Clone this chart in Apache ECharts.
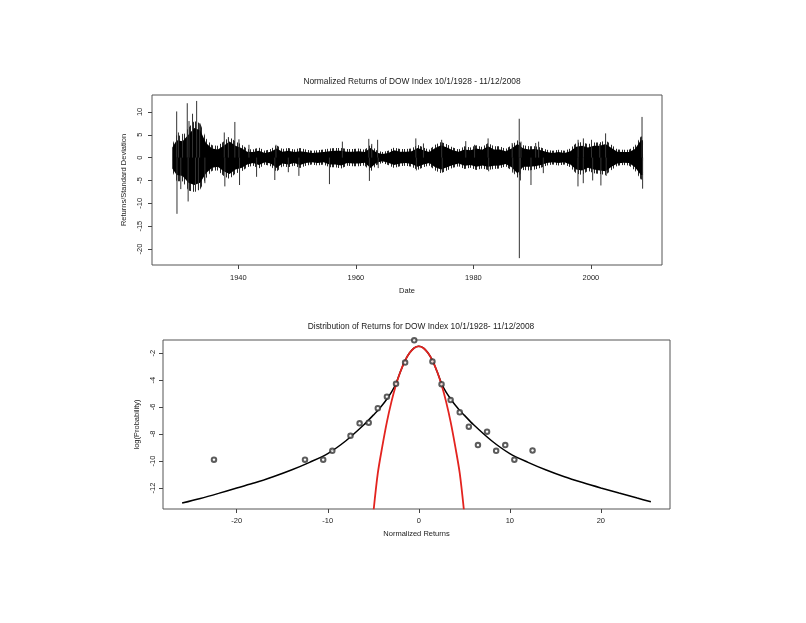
<!DOCTYPE html>
<html>
<head>
<meta charset="utf-8">
<script src="https://cdn.jsdelivr.net/npm/echarts@6/dist/echarts.min.js"></script>
<style>
  html, body { margin: 0; padding: 0; background: #fff; }
  #chart { width: 806px; height: 623px; }
</style>
</head>
<body>
<div id="chart"></div>
<script>
// top panel: daily normalized returns, read off the picture as a yearly core band,
// an outer fringe (where the short hairs reach) and the single large spikes
const dataStart = 1928.75;
const dataEnd = 2008.87;
const bandYears = [];
for (let y = 1928; y <= 2008; y++) bandYears.push(y);
const bandHi = [2.2, 3.8, 3.6, 5.0, 6.5, 6.0, 3.2, 2.0, 1.8, 2.6,
  3.5, 2.6, 2.1, 1.3, 1.2, 1.5, 1.0, 1.3, 2.0, 1.3,
  1.5, 1.2, 1.4, 1.2, 1.0, 1.1, 1.2, 1.4, 1.5, 1.5,
  1.3, 1.3, 1.4, 1.2, 2.1, 1.1, 0.8, 1.0, 1.6, 1.3,
  1.3, 1.4, 2.1, 1.6, 1.2, 2.1, 2.7, 2.2, 1.6, 1.3,
  1.8, 1.6, 2.0, 1.7, 2.5, 1.8, 1.8, 1.4, 2.0, 3.0,
  2.0, 1.8, 1.9, 1.6, 1.2, 1.0, 1.2, 1.0, 1.4, 2.4,
  2.6, 2.2, 2.6, 2.6, 3.0, 2.1, 1.3, 1.2, 1.2, 1.9, 3.8];
const bandLo = [-2.4, -3.8, -4.0, -5.5, -6.0, -5.5, -3.4, -2.2, -2.0, -3.0,
  -3.6, -2.6, -2.3, -1.5, -1.2, -1.6, -1.0, -1.3, -2.3, -1.3,
  -1.5, -1.2, -1.6, -1.2, -1.0, -1.2, -1.0, -1.5, -1.5, -1.7,
  -1.2, -1.3, -1.3, -1.1, -2.3, -1.1, -0.8, -1.1, -1.6, -1.3,
  -1.2, -1.4, -2.0, -1.5, -1.2, -2.1, -2.6, -2.1, -1.6, -1.3,
  -1.8, -1.6, -2.0, -1.7, -2.0, -1.8, -1.7, -1.4, -2.1, -3.5,
  -2.0, -2.0, -1.9, -1.6, -1.2, -1.0, -1.2, -1.0, -1.5, -2.6,
  -2.8, -2.2, -2.6, -2.8, -3.0, -2.0, -1.3, -1.1, -1.2, -2.1, -3.8];
const outerHi = [2.8, 5.0, 4.6, 6.5, 8.0, 7.5, 4.2, 2.7, 2.6, 3.5,
  4.5, 3.5, 2.9, 1.9, 1.8, 2.2, 1.5, 1.9, 2.7, 1.9,
  2.1, 1.8, 2.1, 1.8, 1.5, 1.6, 1.8, 2.0, 2.1, 2.1,
  1.9, 1.9, 2.0, 1.7, 2.8, 1.6, 1.2, 1.5, 2.2, 1.9,
  1.9, 2.0, 2.8, 2.2, 1.7, 2.8, 3.4, 2.9, 2.2, 1.8,
  2.5, 2.2, 2.7, 2.3, 3.2, 2.5, 2.5, 1.9, 2.7, 3.8,
  2.7, 2.5, 2.5, 2.2, 1.7, 1.5, 1.7, 1.5, 2.0, 3.2,
  3.4, 2.9, 3.3, 3.3, 3.8, 2.8, 1.8, 1.7, 1.7, 2.6, 4.6];
const outerLo = [-3.0, -5.2, -5.2, -7.2, -7.5, -7.0, -4.5, -2.9, -2.8, -4.0,
  -4.7, -3.5, -3.1, -2.1, -1.8, -2.4, -1.5, -1.9, -3.1, -1.9,
  -2.1, -1.8, -2.3, -1.8, -1.5, -1.7, -1.5, -2.1, -2.1, -2.4,
  -1.8, -1.9, -1.9, -1.7, -3.1, -1.6, -1.2, -1.6, -2.3, -1.9,
  -1.8, -2.0, -2.7, -2.1, -1.7, -2.8, -3.4, -2.8, -2.2, -1.9,
  -2.5, -2.2, -2.7, -2.4, -2.7, -2.5, -2.4, -1.9, -2.8, -4.4,
  -2.7, -2.8, -2.6, -2.2, -1.7, -1.5, -1.7, -1.5, -2.1, -3.5,
  -3.8, -2.9, -3.4, -3.6, -3.8, -2.7, -1.8, -1.6, -1.7, -2.8, -4.8];
const spikeYears = [1929.5, 1929.55, 1929.8, 1930.2, 1930.5, 1931.3, 1931.45, 1931.6, 1932.2, 1932.7,
  1932.9, 1933.2, 1933.4, 1934.3, 1937.6, 1937.7, 1938.3, 1939.4, 1940.1, 1940.2,
  1941.8, 1943.1, 1946.2, 1946.4, 1948.5, 1950.3, 1955.5, 1957.7, 1962.2, 1962.3,
  1962.7, 1963.7, 1963.8, 1970.2, 1970.3, 1971.5, 1974.6, 1974.7, 1978.7, 1980.2,
  1982.5, 1982.6, 1986.6, 1986.7, 1987.8, 1987.82, 1988.0, 1988.1, 1989.8, 1990.6,
  1991.1, 1991.9, 1997.8, 1997.82, 1998.7, 1998.72, 2000.1, 2000.3, 2001.5, 2001.7,
  2002.5, 2002.6, 2008.7, 2008.8];
const spikeValues = [10.1, -12.3, 5.5, -6.9, 5.2, 11.9, -9.6, 8.0, 9.6, -7.4,
  12.4, -7.1, 7.5, -5.6, 5.5, -6.3, 4.5, 7.8, 4.0, -6.0,
  2.8, -4.2, -4.9, 2.8, -3.2, -4.0, -5.8, 3.5, 4.1, -5.1,
  3.0, 3.9, -2.3, 4.2, -2.8, 3.1, 3.9, -3.0, 3.6, 2.8,
  4.2, -3.0, 3.2, -3.3, 8.5, -22.0, -5.0, 3.5, -6.0, 3.2,
  3.5, -3.4, -6.3, 3.9, -5.6, 4.2, 3.9, -5.0, 3.0, -6.1,
  5.3, -4.0, 8.9, -6.8];
const topXTicks = [1940, 1960, 1980, 2000];
const topYTicks = [-20, -15, -10, -5, 0, 5, 10];

// bottom panel: log probability of binned returns + fitted curves
const binCenters = [-22.5, -12.5, -10.5, -9.5, -7.5, -6.5, -5.5, -4.5, -3.5, -2.5, -1.5, -0.5,
  1.5, 2.5, 3.5, 4.5, 5.5, 6.5, 7.5, 8.5, 9.5, 10.5, 12.5];
const binLogProb = [-9.9, -9.9, -9.9, -9.25, -8.13, -7.21, -7.16, -6.09, -5.23, -4.28, -2.7, -1.05,
  -2.62, -4.31, -5.47, -6.39, -7.46, -8.82, -7.83, -9.25, -8.82, -9.9, -9.22];
const fitX = [-26, -24, -22, -20, -18, -16, -14, -12, -10, -8, -6, -5, -4.5, -4, -3.5, -3, -2.5, -2, -1.5, -1, -0.5,
  0, 0.5, 1, 1.5, 2, 2.5, 3, 3.5, 4, 4.5, 5, 6, 8, 10, 12, 14, 16, 18, 20, 22, 24, 25.5];
const fitY = [-13.12, -12.78, -12.4, -12.0, -11.62, -11.17, -10.67, -10.1, -9.45, -8.5, -7.3, -6.6, -6.25, -5.85, -5.4, -4.9, -4.25, -3.35, -2.55, -1.98, -1.62,
  -1.5, -1.62, -1.98, -2.55, -3.35, -4.25, -4.9, -5.4, -5.85, -6.25, -6.6, -7.3, -8.5, -9.45, -10.1, -10.67, -11.17, -11.6, -12.0, -12.38, -12.75, -13.02];
const normalX = [-4.95, -4.5, -4, -3.5, -3, -2.5, -2, -1.5, -1, -0.5, 0, 0.5, 1, 1.5, 2, 2.5, 3, 3.5, 4, 4.5, 4.95];
const normalY = [-13.58, -10.9, -8.9, -7.1, -5.6, -4.35, -3.35, -2.55, -1.98, -1.62, -1.5, -1.62, -1.98, -2.55, -3.35, -4.35, -5.6, -7.1, -8.9, -10.9, -13.58];
const botXTicks = [-20, -10, 0, 10, 20];
const botYTicks = [-12, -10, -8, -6, -4, -2];

const font = 'Liberation Sans, Arial, Helvetica, sans-serif';
const ink = '#222';

// hair-like hatch used for the fringe of the top band
const hatch = document.createElement('canvas');
hatch.width = 11; hatch.height = 4;
(function () {
  const g = hatch.getContext('2d');
  g.fillStyle = 'rgba(0,0,0,0.85)';
  [0, 2, 3, 6, 8].forEach(function (x) { g.fillRect(x, 0, 1, 4); });
})();

function axisStyle(ticks, labelMargin, rotate) {
  return {
    axisLine: { show: false, onZero: false },
    splitLine: { show: false },
    axisTick: { show: true, inside: false, length: 4, customValues: ticks, lineStyle: { color: '#444', width: 1 } },
    axisLabel: { customValues: ticks, margin: labelMargin, rotate: rotate || 0, fontSize: 7.5, color: ink, fontFamily: font,
      formatter: function (v) { return String(v); } }
  };
}

// whole band drawn as one polygon through the yearly values (mid-year), from first to last trading day
function bandPolygon(hi, lo, fill) {
  return function (params, api) {
    if (params.dataIndex !== 0) return null;
    const n = bandYears.length;
    const top = [api.coord([dataStart, hi[0]])];
    const bottom = [api.coord([dataStart, lo[0]])];
    bandYears.forEach(function (y, i) {
      const xm = Math.min(Math.max(y + 0.5, dataStart), dataEnd);
      top.push(api.coord([xm, hi[i]]));
      bottom.push(api.coord([xm, lo[i]]));
    });
    top.push(api.coord([dataEnd, hi[n - 1]]));
    bottom.push(api.coord([dataEnd, lo[n - 1]]));
    return { type: 'polygon', shape: { points: top.concat(bottom.reverse()) }, style: { fill: fill } };
  };
}

const chart = echarts.init(document.getElementById('chart'));

const bandData = bandYears.map((y, i) => [y, bandHi[i], bandLo[i]]);
const spikeData = spikeYears.map((y, i) => [y, spikeValues[i]]);

const option = {
  backgroundColor: '#fff',
  animation: false,
  title: [
    { text: 'Normalized Returns of DOW Index 10/1/1928 - 11/12/2008', left: 407, top: 73, textAlign: 'center',
      textStyle: { fontSize: 8.4, fontWeight: 'normal', color: ink, fontFamily: font } },
    { text: 'Distribution of Returns for DOW Index 10/1/1928- 11/12/2008', left: 416, top: 318, textAlign: 'center',
      textStyle: { fontSize: 8.4, fontWeight: 'normal', color: ink, fontFamily: font } }
  ],
  grid: [
    { left: 152, top: 95, width: 510, height: 170, show: true, borderColor: '#555', borderWidth: 1, backgroundColor: 'transparent' },
    { left: 163, top: 340, width: 507, height: 169, show: true, borderColor: '#555', borderWidth: 1, backgroundColor: 'transparent' }
  ],
  xAxis: [
    Object.assign({ type: 'value', gridIndex: 0, min: 1925.3, max: 2012.1, name: 'Date', nameLocation: 'middle', nameGap: 22,
      nameTextStyle: { fontSize: 7.5, color: ink, fontFamily: font } }, axisStyle(topXTicks, 9)),
    Object.assign({ type: 'value', gridIndex: 1, min: -28.1, max: 27.6, name: 'Normalized Returns', nameLocation: 'middle', nameGap: 21,
      nameTextStyle: { fontSize: 7.5, color: ink, fontFamily: font } }, axisStyle(botXTicks, 8))
  ],
  yAxis: [
    Object.assign({ type: 'value', gridIndex: 0, min: -23.5, max: 13.7, name: 'Returns/Standard Deviation', nameLocation: 'middle', nameGap: 21,
      nameTextStyle: { fontSize: 7.5, color: ink, fontFamily: font } }, axisStyle(topYTicks, 8, 90)),
    Object.assign({ type: 'value', gridIndex: 1, min: -13.56, max: -1.03, name: 'log(Probability)', nameLocation: 'middle', nameGap: 19,
      nameTextStyle: { fontSize: 7.5, color: ink, fontFamily: font } }, axisStyle(botYTicks, 6, 90))
  ],
  series: [
    {
      type: 'custom', xAxisIndex: 0, yAxisIndex: 0, data: bandData, clip: true,
      renderItem: bandPolygon(outerHi, outerLo, { image: hatch, repeat: 'repeat' })
    },
    {
      type: 'custom', xAxisIndex: 0, yAxisIndex: 0, data: bandData, clip: true,
      renderItem: bandPolygon(bandHi, bandLo, '#000')
    },
    {
      type: 'custom', xAxisIndex: 0, yAxisIndex: 0, data: spikeData, clip: true,
      renderItem: function (params, api) {
        const p0 = api.coord([api.value(0), 0]);
        const p1 = api.coord([api.value(0), api.value(1)]);
        return { type: 'line', shape: { x1: p0[0], y1: p0[1], x2: p1[0], y2: p1[1] }, style: { stroke: '#333', lineWidth: 1 } };
      }
    },
    {
      type: 'line', xAxisIndex: 1, yAxisIndex: 1, data: fitX.map((x, i) => [x, fitY[i]]),
      showSymbol: false, smooth: 0.3, lineStyle: { color: '#000', width: 1.5 }, z: 3
    },
    {
      type: 'line', xAxisIndex: 1, yAxisIndex: 1, data: normalX.map((x, i) => [x, normalY[i]]),
      showSymbol: false, smooth: 0.3, lineStyle: { color: '#e3231f', width: 1.8 }, z: 4
    },
    {
      type: 'scatter', xAxisIndex: 1, yAxisIndex: 1, data: binCenters.map((x, i) => [x, binLogProb[i]]),
      symbol: 'emptyCircle', symbolSize: 4.5, itemStyle: { color: '#333', borderColor: '#333', borderWidth: 0.8 }, z: 5
    }
  ]
};

chart.setOption(option);
</script>
</body>
</html>
